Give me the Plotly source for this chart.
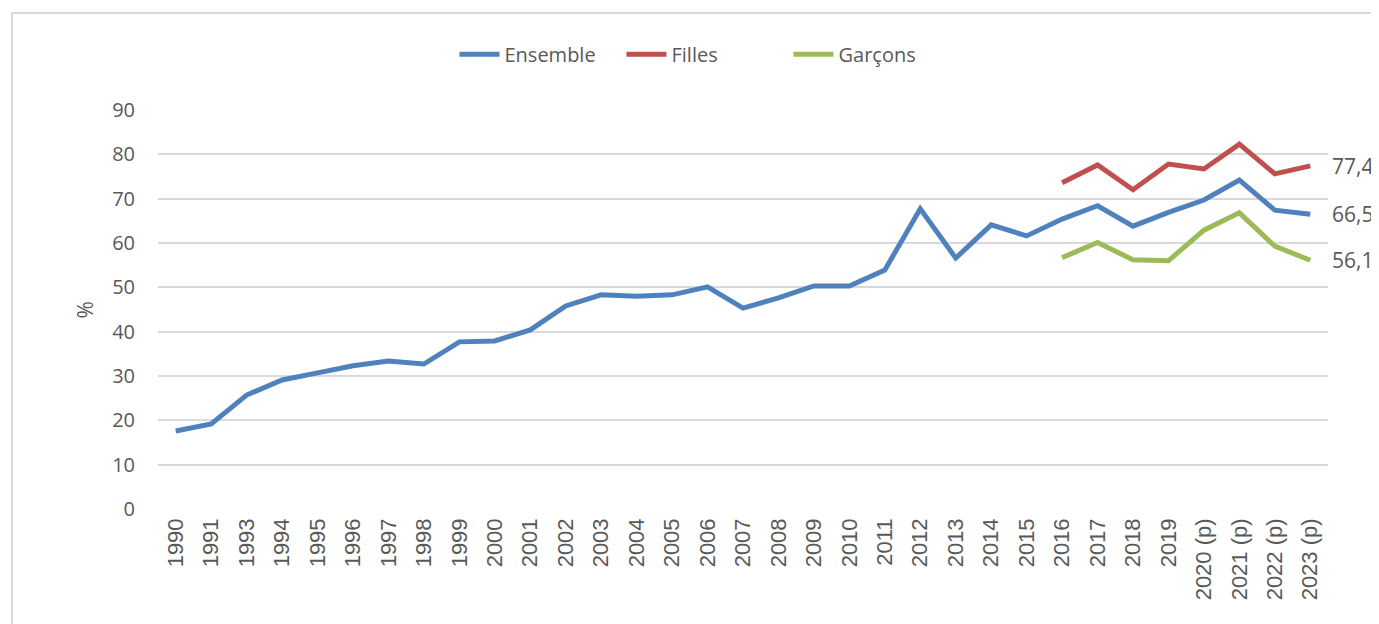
import plotly.graph_objects as go

years = ["1990", "1991", "1993", "1994", "1995", "1996", "1997", "1998", "1999",
         "2000", "2001", "2002", "2003", "2004", "2005", "2006", "2007", "2008",
         "2009", "2010", "2011", "2012", "2013", "2014", "2015", "2016", "2017",
         "2018", "2019", "2020 (p)", "2021 (p)", "2022 (p)", "2023 (p)"]

ensemble = [17.6, 19.2, 25.7, 29.1, 30.7, 32.3, 33.4, 32.7, 37.7,
            37.9, 40.4, 45.8, 48.3, 48.0, 48.3, 50.1, 45.3, 47.6,
            50.3, 50.3, 53.9, 67.7, 56.6, 64.1, 61.6, 65.4, 68.4,
            63.8, 66.9, 69.7, 74.2, 67.4, 66.5]

filles_years = ["2016", "2017", "2018", "2019", "2020 (p)", "2021 (p)", "2022 (p)", "2023 (p)"]
filles = [73.6, 77.6, 72.0, 77.8, 76.7, 82.3, 75.6, 77.4]
garcons = [56.7, 60.1, 56.2, 56.0, 62.9, 66.8, 59.3, 56.1]

y_ticks = [0, 10, 20, 30, 40, 50, 60, 70, 80, 90]

BLUE = "#4F81BD"
RED = "#C0504D"
GREEN = "#9BBB59"
GRAY = "#595959"

fig = go.Figure()
fig.add_trace(go.Scatter(x=years, y=ensemble, mode="lines", name="Ensemble",
                         line=dict(color=BLUE, width=5)))
fig.add_trace(go.Scatter(x=filles_years, y=filles, mode="lines", name="Filles",
                         line=dict(color=RED, width=5)))
fig.add_trace(go.Scatter(x=filles_years, y=garcons, mode="lines", name="Garçons",
                         line=dict(color=GREEN, width=5)))

def fmt(v):
    return f"{v:.1f}".replace(".", ",")

for series in (filles, ensemble, garcons):
    fig.add_annotation(x=years[-1], y=series[-1], xref="x", yref="y",
                       text=fmt(series[-1]), showarrow=False, xanchor="left",
                       yanchor="middle", xshift=20,
                       font=dict(family="Open Sans", size=21, color=GRAY))

fig.add_annotation(x=-0.0624, y=0.5, xref="paper", yref="paper", text="%",
                   showarrow=False, textangle=-90, xanchor="center", yanchor="middle",
                   font=dict(family="Open Sans", size=21, color=GRAY))

fig.add_shape(type="rect", xref="paper", yref="paper",
              x0=-0.1248, x1=1.2, y0=-0.4, y1=1.2431,
              line=dict(color="#D9D9D9", width=2), fillcolor="rgba(0,0,0,0)",
              layer="below")

fig.update_layout(
    width=1379, height=624,
    margin=dict(l=150, r=59, t=102, b=123, autoexpand=False),
    paper_bgcolor="white", plot_bgcolor="white",
    showlegend=True,
    legend=dict(orientation="h", x=0.4675, xanchor="center", y=1.14, yanchor="middle",
                font=dict(family="Open Sans", size=20, color=GRAY),
                entrywidth=112, entrywidthmode="pixels",
                itemwidth=40, tracegroupgap=0),
    xaxis=dict(type="category", categoryorder="array", categoryarray=years,
               range=[-0.5, len(years) - 0.5],
               tickangle=-90, showgrid=False, showline=False, zeroline=False,
               ticks="", ticklabelstandoff=4,
               tickfont=dict(family="Liberation Sans", size=22, color=GRAY),
               automargin=False, fixedrange=True),
    yaxis=dict(range=[0, 90], tickvals=y_ticks, showgrid=True, gridcolor="#D9D9D9",
               gridwidth=2, zeroline=False, showline=False, ticks="",
               ticklabelstandoff=22, automargin=False,
               tickfont=dict(family="Open Sans", size=20, color=GRAY),
               fixedrange=True),
)

fig.write_html("out.html")
